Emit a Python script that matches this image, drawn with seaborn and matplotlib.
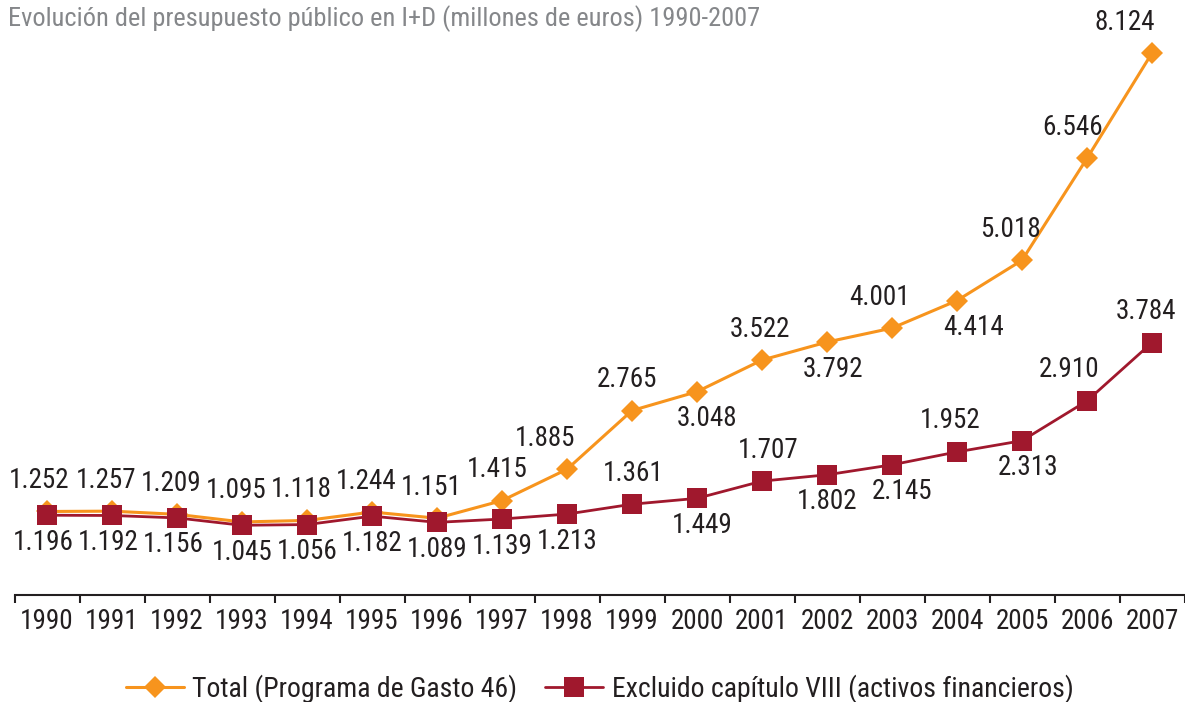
import matplotlib
matplotlib.use("Agg")
import matplotlib.pyplot as plt
import seaborn as sns
import pandas as pd
from matplotlib.ticker import FixedLocator

# data
years = [str(y) for y in range(1990, 2008)]
total = [1252, 1257, 1209, 1095, 1118, 1244, 1151, 1415, 1885, 2765,
         3048, 3522, 3792, 4001, 4414, 5018, 6546, 8124]
excluido = [1196, 1192, 1156, 1045, 1056, 1182, 1089, 1139, 1213, 1361,
            1449, 1707, 1802, 1952, 2145, 2313, 2910, 3784]
# printed labels (2003/2004 of the second series appear swapped in the source)
total_labels = ["1.252", "1.257", "1.209", "1.095", "1.118", "1.244", "1.151", "1.415", "1.885",
                "2.765", "3.048", "3.522", "3.792", "4.001", "4.414", "5.018", "6.546", "8.124"]
excl_labels = ["1.196", "1.192", "1.156", "1.045", "1.056", "1.182", "1.089", "1.139", "1.213",
               "1.361", "1.449", "1.707", "1.802", "2.145", "1.952", "2.313", "2.910", "3.784"]
series_names = ["Total (Programa de Gasto 46)", "Excluido capítulo VIII (activos financieros)"]
title = "Evolución del presupuesto público en I+D (millones de euros) 1990-2007"

# label placement: a = above, b = below, plus a small horizontal nudge in px
total_pos = ["a"] * 10 + ["b", "a", "b", "a", "b", "a", "a", "a"]
total_dx = [-8, -6, -6, -6, -6, -6, -6, -5, -22, -5, 10, -2, 6, -12, 17, -12, -14, -27]
excl_pos = ["b"] * 9 + ["a", "b", "a", "b", "b", "a", "b", "a", "a"]
excl_dx = [-4, -4, -4, 0, 0, 0, 0, 0, 0, 1, 5, 6, 0, 10, -7, 6, -18, -6]

ORANGE = "#F7941D"
RED = "#A0182D"
TEXT = "#231F20"
FS = 19.5

sns.set_style("white")
plt.rcParams["font.family"] = ["Roboto Condensed", "Liberation Sans Narrow", "DejaVu Sans"]

df = pd.DataFrame({"year": years, "total": total, "excluido": excluido})

fig = plt.figure(figsize=(11.85, 7.02), dpi=100)
ax = fig.add_axes([14.5 / 1185, 1 - 595 / 702, 1170 / 1185, 567 / 702])

sns.lineplot(data=df, x="year", y="total", ax=ax, color=ORANGE, lw=2.2,
             marker="D", markersize=11, markeredgewidth=0, label=series_names[0])
sns.lineplot(data=df, x="year", y="excluido", ax=ax, color=RED, lw=2.0,
             marker="s", markersize=14, markeredgewidth=0, label=series_names[1])

ax.set_xlim(-0.5, len(years) - 0.5)
ax.set_ylim(0, 8500)
ax.set_xlabel("")
ax.set_ylabel("")
ax.set_yticks([])

for s in ["top", "right", "left"]:
    ax.spines[s].set_visible(False)
ax.spines["bottom"].set_color(TEXT)
ax.spines["bottom"].set_linewidth(1.5)

ax.set_xticks(range(len(years)))
ax.set_xticklabels(years, fontsize=FS, color=TEXT)
ax.xaxis.set_minor_locator(FixedLocator([i - 0.5 for i in range(len(years) + 1)]))
ax.tick_params(axis="x", which="major", bottom=False, pad=6)
ax.tick_params(axis="x", which="minor", bottom=True, length=6, width=1.5,
               color=TEXT, direction="out")


def add_labels(values, labels, pos, dxs):
    for i, (v, lab, p, dx) in enumerate(zip(values, labels, pos, dxs)):
        dy = 31 if p == "a" else -27
        ax.annotate(lab, (i, v), xytext=(dx, dy), textcoords="offset pixels",
                    ha="center", va="center", fontsize=FS, color=TEXT)


add_labels(total, total_labels, total_pos, total_dx)
add_labels(excluido, excl_labels, excl_pos, excl_dx)

leg = ax.legend(loc="center", bbox_to_anchor=(0.5, -0.165), bbox_transform=ax.transAxes,
                ncol=2, frameon=False, fontsize=20, handlelength=2.1,
                columnspacing=1.0, handletextpad=0.3)
for t in leg.get_texts():
    t.set_color(TEXT)

fig.text(8 / 1185, 1 - 19 / 702, title, fontsize=19, color="#85878a",
         ha="left", va="center")

fig.savefig("out.png", dpi=100)
